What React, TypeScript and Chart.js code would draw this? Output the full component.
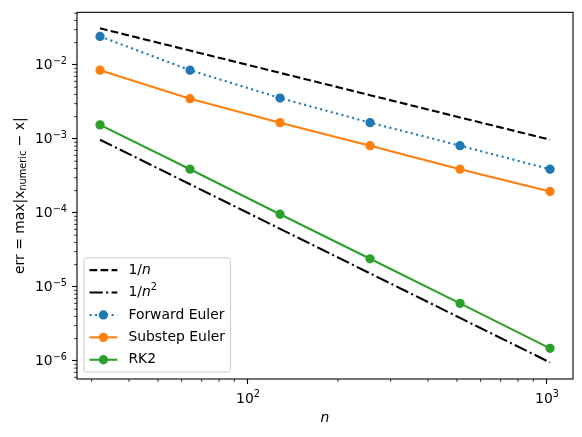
import { useEffect, useRef } from "react";
import { Chart, registerables } from "chart.js";

Chart.register(...registerables);

// sample sizes and measured errors
const nValues = [32, 64, 128, 256, 512, 1024];
const forwardEuler = [0.0243, 0.0085, 0.00357, 0.00166, 0.00081, 0.00039];
const substepEuler = [0.0085, 0.0035, 0.00166, 0.00081, 0.00039, 0.000195];
const rk2 = [0.00155, 0.00039, 0.000096, 0.000024, 0.000006, 0.00000148];
// reference slopes
const refOneOverN = [0.03125, 0.015625, 0.0078125, 0.00390625, 0.001953125, 0.0009765625];
const refOneOverN2 = [0.0009765625, 0.000244140625, 0.00006103515625, 0.0000152587890625, 0.000003814697265625, 0.00000095367431640625];

const seriesLabels = ["1/n", "1/n²", "Forward Euler", "Substep Euler", "RK2"];

const xMajorTicks = [100, 1000];
const xTickExponents = ["2", "3"];
const yMajorTicks = [1e-6, 1e-5, 1e-4, 1e-3, 1e-2];
const yTickExponents = ["−6", "−5", "−4", "−3", "−2"];

const X_MIN = 26.8;
const X_MAX = 1222;
const Y_MIN = 5.7e-7;
const Y_MAX = 0.0514;

const FONT = "DejaVu Sans";
const FS = 13.9;

function minorTicks(min: number, max: number) {
  const out: number[] = [];
  for (let d = Math.floor(Math.log10(min)); d <= Math.ceil(Math.log10(max)); d++) {
    for (let m = 2; m <= 9; m++) {
      const v = m * Math.pow(10, d);
      if (v >= min && v <= max) out.push(v);
    }
  }
  return out;
}

function buildTicks(majors: number[], min: number, max: number) {
  const all = majors
    .filter((v) => v >= min && v <= max)
    .map((v) => ({ value: v, major: true }))
    .concat(minorTicks(min, max).map((v) => ({ value: v, major: false })));
  return all.sort((a, b) => a.value - b.value);
}

type Part = { t: string; italic?: boolean; scale?: number; dy?: number };

function partsWidth(ctx: CanvasRenderingContext2D, parts: Part[]) {
  let w = 0;
  for (const p of parts) {
    ctx.font = `${p.italic ? "italic " : ""}${FS * (p.scale || 1)}px "${FONT}"`;
    w += ctx.measureText(p.t).width;
  }
  return w;
}

function drawParts(ctx: CanvasRenderingContext2D, parts: Part[], x: number, y: number) {
  let cx = x;
  for (const p of parts) {
    ctx.font = `${p.italic ? "italic " : ""}${FS * (p.scale || 1)}px "${FONT}"`;
    ctx.fillText(p.t, cx, y + (p.dy || 0));
    cx += ctx.measureText(p.t).width;
  }
}

function labelParts(label: string): Part[] {
  if (label === "1/n") return [{ t: "1/" }, { t: "n", italic: true }];
  if (label === "1/n²")
    return [{ t: "1/" }, { t: "n", italic: true }, { t: "2", scale: 0.7, dy: -5 }];
  return [{ t: label }];
}

function powerParts(exp: string): Part[] {
  return [{ t: "10" }, { t: exp, scale: 0.7, dy: -4.6 }];
}

const decorPlugin = {
  id: "decor",
  afterDraw(chart: any) {
    const { ctx, chartArea: a, scales } = chart;
    ctx.save();
    ctx.strokeStyle = "#000";

    // minor tick marks
    ctx.lineWidth = 0.83;
    for (const t of scales.x.ticks) {
      if (t.major) continue;
      const px = scales.x.getPixelForValue(t.value);
      ctx.beginPath();
      ctx.moveTo(px, a.bottom);
      ctx.lineTo(px, a.bottom + 2.8);
      ctx.stroke();
    }
    for (const t of scales.y.ticks) {
      if (t.major) continue;
      const py = scales.y.getPixelForValue(t.value);
      ctx.beginPath();
      ctx.moveTo(a.left - 2.8, py);
      ctx.lineTo(a.left, py);
      ctx.stroke();
    }

    // frame
    ctx.lineWidth = 1.1;
    ctx.strokeRect(a.left, a.top, a.right - a.left, a.bottom - a.top);

    ctx.fillStyle = "#000";
    ctx.textBaseline = "middle";
    ctx.textAlign = "left";

    // tick labels with superscript exponents
    xMajorTicks.forEach((v, i) => {
      const px = scales.x.getPixelForValue(v);
      const parts = powerParts(xTickExponents[i]);
      drawParts(ctx, parts, px - partsWidth(ctx, parts) / 2, a.bottom + 20);
    });
    yMajorTicks.forEach((v, i) => {
      const py = scales.y.getPixelForValue(v);
      const parts = powerParts(yTickExponents[i]);
      drawParts(ctx, parts, a.left - 10 - partsWidth(ctx, parts), py + 0.8);
    });

    // axis titles
    const nParts: Part[] = [{ t: "n", italic: true }];
    drawParts(ctx, nParts, (a.left + a.right) / 2 - partsWidth(ctx, nParts) / 2, 418);

    const yParts: Part[] = [
      { t: "err = max|x" },
      { t: "numeric", scale: 0.7, dy: 3.5 },
      { t: " − x|" },
    ];
    ctx.save();
    ctx.translate(20, (a.top + a.bottom) / 2);
    ctx.rotate(-Math.PI / 2);
    drawParts(ctx, yParts, -partsWidth(ctx, yParts) / 2, 0);
    ctx.restore();

    // legend (lower left, inside axes)
    const datasets = chart.data.datasets;
    const rowStep = 22.4;
    const edge = 12.3;
    const pad = 5.56;
    const handle = 27.8;
    const gap = 11.1;
    let maxW = 0;
    for (const ds of datasets) maxW = Math.max(maxW, partsWidth(ctx, labelParts(ds.label)));
    const boxW = pad + handle + gap + maxW + pad;
    const boxH = (datasets.length - 1) * rowStep + 2 * edge;
    const bx = a.left + 6.95;
    const by = a.bottom - 6.95 - boxH;
    ctx.beginPath();
    ctx.roundRect(bx, by, boxW, boxH, 2.8);
    ctx.fillStyle = "rgba(255,255,255,0.8)";
    ctx.fill();
    ctx.strokeStyle = "#cccccc";
    ctx.lineWidth = 1;
    ctx.stroke();

    datasets.forEach((ds: any, i: number) => {
      const cy = by + edge + i * rowStep;
      const hx = bx + pad;
      ctx.strokeStyle = ds.borderColor;
      ctx.lineWidth = ds.borderWidth;
      ctx.setLineDash(ds.borderDash || []);
      ctx.beginPath();
      ctx.moveTo(hx, cy);
      ctx.lineTo(hx + handle, cy);
      ctx.stroke();
      ctx.setLineDash([]);
      if (ds.pointRadius > 0) {
        ctx.beginPath();
        ctx.arc(hx + handle / 2, cy, ds.pointRadius + ds.pointBorderWidth / 2, 0, Math.PI * 2);
        ctx.fillStyle = ds.pointBackgroundColor;
        ctx.fill();
      }
      ctx.fillStyle = "#000";
      drawParts(ctx, labelParts(ds.label), hx + handle + gap, cy);
    });

    ctx.restore();
  },
};

function toPoints(ys: number[]) {
  return nValues.map((n, i) => ({ x: n, y: ys[i] }));
}

export default function App() {
  const canvasRef = useRef<HTMLCanvasElement>(null);
  const chartRef = useRef<Chart | null>(null);

  useEffect(() => {
    document.body.style.margin = "0";
    if (!canvasRef.current) return;
    if (chartRef.current) chartRef.current.destroy();

    const ctx = canvasRef.current.getContext("2d");
    if (!ctx) return;

    const lw = 2.08;
    const marker = (color: string) => ({
      pointRadius: 4,
      pointBorderWidth: 1.3,
      pointBackgroundColor: color,
      pointBorderColor: color,
      pointHoverRadius: 4,
    });

    const datasets: any[] = [
      {
        label: seriesLabels[0],
        data: toPoints(refOneOverN),
        borderColor: "#000000",
        borderWidth: lw,
        borderDash: [7.7, 3.33],
        pointRadius: 0,
        order: 5,
      },
      {
        label: seriesLabels[1],
        data: toPoints(refOneOverN2),
        borderColor: "#000000",
        borderWidth: lw,
        borderDash: [13.3, 3.33, 2.08, 3.33],
        pointRadius: 0,
        order: 4,
      },
      {
        label: seriesLabels[2],
        data: toPoints(forwardEuler),
        borderColor: "#1f77b4",
        borderWidth: lw,
        borderDash: [2.08, 3.44],
        ...marker("#1f77b4"),
        order: 3,
      },
      {
        label: seriesLabels[3],
        data: toPoints(substepEuler),
        borderColor: "#ff7f0e",
        borderWidth: lw,
        ...marker("#ff7f0e"),
        order: 2,
      },
      {
        label: seriesLabels[4],
        data: toPoints(rk2),
        borderColor: "#2ca02c",
        borderWidth: lw,
        ...marker("#2ca02c"),
        order: 1,
      },
    ];

    const tickFont = { family: FONT, size: FS };

    chartRef.current = new Chart(ctx, {
      type: "line",
      data: { datasets },
      options: {
        responsive: false,
        animation: false,
        layout: { padding: { left: 0, right: 9, top: 10, bottom: 0 } },
        elements: { line: { tension: 0, fill: false } },
        scales: {
          x: {
            type: "logarithmic",
            min: X_MIN,
            max: X_MAX,
            afterBuildTicks: (scale: any) => {
              scale.ticks = buildTicks(xMajorTicks, X_MIN, X_MAX);
            },
            afterFit: (scale: any) => {
              scale.height = 58;
            },
            ticks: {
              autoSkip: false,
              maxRotation: 0,
              padding: 3,
              color: "#000",
              font: tickFont,
              callback: () => "",
            },
            grid: {
              drawOnChartArea: false,
              drawTicks: true,
              tickLength: 5,
              tickWidth: 1.1,
              tickColor: (c: any) => (c.tick && c.tick.major ? "#000" : "rgba(0,0,0,0)"),
            },
            border: { display: false },
          },
          y: {
            type: "logarithmic",
            min: Y_MIN,
            max: Y_MAX,
            afterBuildTicks: (scale: any) => {
              scale.ticks = buildTicks(yMajorTicks, Y_MIN, Y_MAX);
            },
            afterFit: (scale: any) => {
              scale.width = 77;
            },
            ticks: {
              autoSkip: false,
              padding: 4,
              color: "#000",
              font: tickFont,
              callback: () => "",
            },
            grid: {
              drawOnChartArea: false,
              drawTicks: true,
              tickLength: 5,
              tickWidth: 1.1,
              tickColor: (c: any) => (c.tick && c.tick.major ? "#000" : "rgba(0,0,0,0)"),
            },
            border: { display: false },
          },
        },
        plugins: {
          legend: { display: false },
          tooltip: { enabled: false },
        },
      },
      plugins: [decorPlugin],
    });

    return () => {
      if (chartRef.current) {
        chartRef.current.destroy();
        chartRef.current = null;
      }
    };
  }, []);

  return (
    <div style={{ width: "582px", height: "437px", position: "relative", background: "#fff" }}>
      <canvas ref={canvasRef} width={582} height={437}></canvas>
    </div>
  );
}
